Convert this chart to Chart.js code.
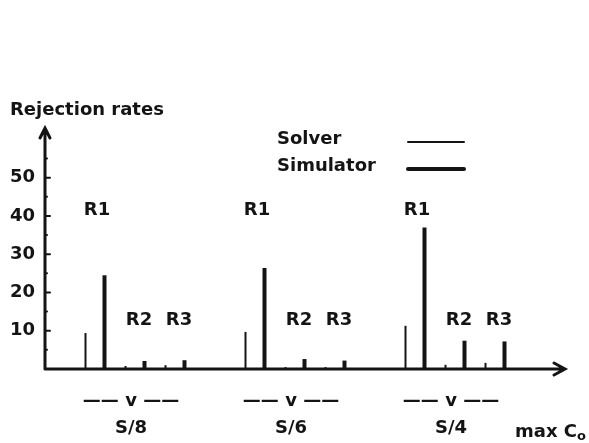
<!DOCTYPE html>
<html>
<head>
<meta charset="utf-8">
<script src="https://cdn.jsdelivr.net/npm/chart.js@4.4.0/dist/chart.umd.min.js"></script>
<style>
  html, body { margin: 0; padding: 0; background: #fff; }
  #wrap { width: 589px; height: 443px; }
</style>
</head>
<body>
<div id="wrap"><canvas id="chart"></canvas></div>
<script>
// values
const groups = ['S/8', 'S/6', 'S/4'];
const reactions = ['R1', 'R2', 'R3'];
const solverRates = [9.4, 0.8, 1.0, 9.7, 0.5, 0.5, 11.3, 1.1, 1.6];
const simulatorRates = [24.5, 2.1, 2.3, 26.4, 2.6, 2.2, 37, 7.4, 7.2];
const yTicks = [10, 20, 30, 40, 50];
const yMinor = [5, 15, 25, 35, 45, 55];

const ink = '#141414';
const font = 'bold 18px "DejaVu Sans"';

// each group takes 4 slots on the x axis (3 reactions + a gap)
const slot = (i) => Math.floor(i / 3) * 4 + (i % 3);
const toPoints = (arr) => arr.map((v, i) => ({ x: slot(i), y: v }));

const sketch = {
  id: 'sketch',
  afterDraw(chart) {
    const { ctx, chartArea: a, scales: { x, y } } = chart;
    ctx.save();
    ctx.strokeStyle = ink;
    ctx.fillStyle = ink;
    ctx.lineCap = 'round';

    // axes with arrows
    ctx.lineWidth = 3;
    ctx.beginPath();
    ctx.moveTo(a.left, a.bottom);
    ctx.lineTo(a.left, a.top);
    ctx.moveTo(a.left - 5, a.top + 10);
    ctx.lineTo(a.left, a.top);
    ctx.lineTo(a.left + 5, a.top + 10);
    ctx.moveTo(a.left, a.bottom);
    ctx.lineTo(a.right, a.bottom);
    ctx.moveTo(a.right - 11, a.bottom - 6);
    ctx.lineTo(a.right, a.bottom);
    ctx.lineTo(a.right - 11, a.bottom + 6);
    ctx.stroke();

    // tick marks on the inside of the y axis
    ctx.lineWidth = 2;
    ctx.beginPath();
    yTicks.forEach(v => {
      const py = y.getPixelForValue(v);
      ctx.moveTo(a.left, py);
      ctx.lineTo(a.left + 5, py);
    });
    yMinor.forEach(v => {
      const py = y.getPixelForValue(v);
      ctx.moveTo(a.left, py);
      ctx.lineTo(a.left + 2, py);
    });
    ctx.stroke();

    ctx.font = font;
    ctx.textBaseline = 'middle';

    // axis title
    ctx.textAlign = 'left';
    ctx.fillText('Rejection rates', 10, 110);

    // legend: name then line sample
    const legY = [139, 166];
    chart.data.datasets.forEach((ds, i) => {
      ctx.fillText(ds.label, 277, legY[i]);
      ctx.lineWidth = ds.maxBarThickness;
      ctx.beginPath();
      ctx.moveTo(408, legY[i] + 3);
      ctx.lineTo(464, legY[i] + 3);
      ctx.stroke();
    });

    // reaction labels above the bars
    const labelLevel = [41.5, 12.8, 12.8];
    ctx.textAlign = 'center';
    groups.forEach((g, gi) => {
      reactions.forEach((r, ri) => {
        const px = x.getPixelForValue(slot(gi * 3 + ri)) + (ri === 0 ? 2 : 4);
        ctx.fillText(r, px, y.getPixelForValue(labelLevel[ri]));
      });
    });

    // x axis name
    ctx.textAlign = 'left';
    ctx.fillText('max C', 515, 432);
    const w = ctx.measureText('max C').width;
    ctx.font = 'bold 13px "DejaVu Sans"';
    ctx.fillText('o', 515 + w, 437);
    ctx.restore();
  }
};

new Chart(document.getElementById('chart'), {
  type: 'bar',
  data: {
    datasets: [
      { label: 'Solver', data: toPoints(solverRates), backgroundColor: ink, maxBarThickness: 2 },
      { label: 'Simulator', data: toPoints(simulatorRates), backgroundColor: ink, maxBarThickness: 4 }
    ]
  },
  options: {
    responsive: true,
    maintainAspectRatio: false,
    animation: false,
    devicePixelRatio: 1,
    layout: { padding: { top: 128, right: 24, left: 0, bottom: 0 } },
    datasets: { bar: { barPercentage: 1, categoryPercentage: 0.95 } },
    plugins: { legend: { display: false }, tooltip: { enabled: false } },
    scales: {
      x: {
        type: 'linear',
        offset: false,
        bounds: 'data',
        min: -1.25,
        max: 11.75,
        grid: { display: false, drawTicks: false, offset: false },
        border: { display: false },
        // group captions sit just left of the middle reaction
        afterBuildTicks: s => { s.ticks = groups.map((g, i) => ({ value: i * 4 + 0.9 })); },
        afterFit: s => { s.height = 74; },
        ticks: {
          autoSkip: false,
          maxRotation: 0,
          padding: 19,
          color: ink,
          font: { family: 'DejaVu Sans', size: 18, weight: 'bold', lineHeight: 1.5 },
          callback: (v, i) => ['—— v ——', groups[i]]
        }
      },
      y: {
        min: 0,
        max: 63,
        grid: { display: false, drawTicks: false },
        border: { display: false },
        afterBuildTicks: s => { s.ticks = yTicks.map(v => ({ value: v })); },
        afterFit: s => { s.width = 45; },
        ticks: {
          padding: 10,
          color: ink,
          font: { family: 'DejaVu Sans', size: 18, weight: 'bold' }
        }
      }
    }
  },
  plugins: [sketch]
});
</script>
</body>
</html>
